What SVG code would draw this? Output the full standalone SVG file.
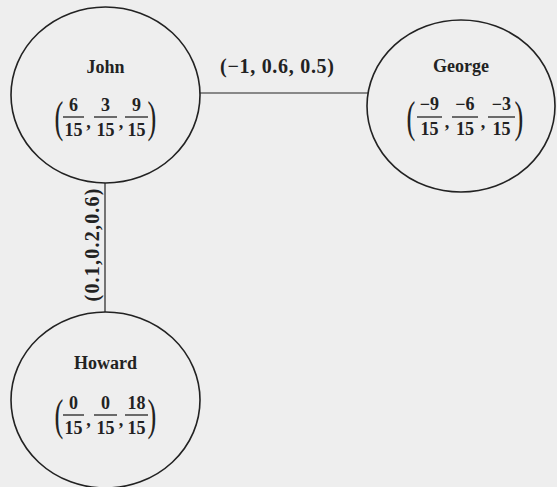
<svg xmlns="http://www.w3.org/2000/svg" width="557" height="487" viewBox="0 0 557 487">
<style>
.node{fill:none;stroke:#222;stroke-width:1.6}
.edge{stroke:#222;stroke-width:1.2;fill:none}
text{font-family:"Liberation Serif","DejaVu Serif",serif;fill:#222}
.name{font-size:18px;font-weight:bold;text-anchor:middle}
.num{font-size:18px;font-weight:bold;text-anchor:middle}
.bar{stroke:#222;stroke-width:1.3}
.paren{font-size:44px;text-anchor:middle}
.lbl{font-size:20px;font-weight:bold;text-anchor:middle}
</style>
<rect width="557" height="487" fill="#eeeeee"/>
<g id="connectors">
<line class="edge" x1="200" y1="93" x2="368" y2="93"/>
<line class="edge" x1="105" y1="183" x2="105" y2="312"/>
<text class="lbl" x="277" y="73" textLength="114" lengthAdjust="spacing">(−1, 0.6, 0.5)</text>
<text class="lbl" transform="translate(99,245) rotate(-90)" textLength="113" lengthAdjust="spacing">(0.1,0.2,0.6)</text>
</g>
<g id="john">
<ellipse class="node" cx="105.5" cy="95" rx="94.5" ry="88"/>
<text class="name" x="105.5" y="73">John</text>
<text class="paren" transform="translate(59,132) scale(0.6,1)">(</text>
<text class="num" x="73.5" y="111">6</text><line class="bar" x1="63" y1="117" x2="84" y2="117"/><text class="num" x="73.5" y="136">15</text>
<text class="num" x="88.5" y="128">,</text>
<text class="num" x="105.5" y="111">3</text><line class="bar" x1="94" y1="117" x2="117" y2="117"/><text class="num" x="105.5" y="136">15</text>
<text class="num" x="121" y="128">,</text>
<text class="num" x="136.5" y="111">9</text><line class="bar" x1="125" y1="117" x2="148" y2="117"/><text class="num" x="136.5" y="136">15</text>
<text class="paren" transform="translate(152,132) scale(0.6,1)">)</text>
</g>
<g id="george">
<ellipse class="node" cx="461" cy="106" rx="94" ry="86"/>
<text class="name" x="461" y="72">George</text>
<text class="paren" transform="translate(411,132) scale(0.6,1)">(</text>
<text class="num" x="429.5" y="110">−9</text><line class="bar" x1="417" y1="117" x2="442" y2="117"/><text class="num" x="429.5" y="135">15</text>
<text class="num" x="447" y="128">,</text>
<text class="num" x="465" y="110">−6</text><line class="bar" x1="452" y1="117" x2="478" y2="117"/><text class="num" x="465" y="135">15</text>
<text class="num" x="483" y="128">,</text>
<text class="num" x="501.5" y="110">−3</text><line class="bar" x1="488" y1="117" x2="515" y2="117"/><text class="num" x="501.5" y="135">15</text>
<text class="paren" transform="translate(519,132) scale(0.6,1)">)</text>
</g>
<g id="howard">
<ellipse class="node" cx="105.5" cy="400" rx="94.5" ry="88"/>
<text class="name" x="105.5" y="369">Howard</text>
<text class="paren" transform="translate(59,430) scale(0.6,1)">(</text>
<text class="num" x="73.5" y="409">0</text><line class="bar" x1="63" y1="415" x2="84" y2="415"/><text class="num" x="73.5" y="434">15</text>
<text class="num" x="88.5" y="426">,</text>
<text class="num" x="105.5" y="409">0</text><line class="bar" x1="94" y1="415" x2="117" y2="415"/><text class="num" x="105.5" y="434">15</text>
<text class="num" x="121" y="426">,</text>
<text class="num" x="136.5" y="409">18</text><line class="bar" x1="125" y1="415" x2="148" y2="415"/><text class="num" x="136.5" y="434">15</text>
<text class="paren" transform="translate(152,430) scale(0.6,1)">)</text>
</g>
</svg>
